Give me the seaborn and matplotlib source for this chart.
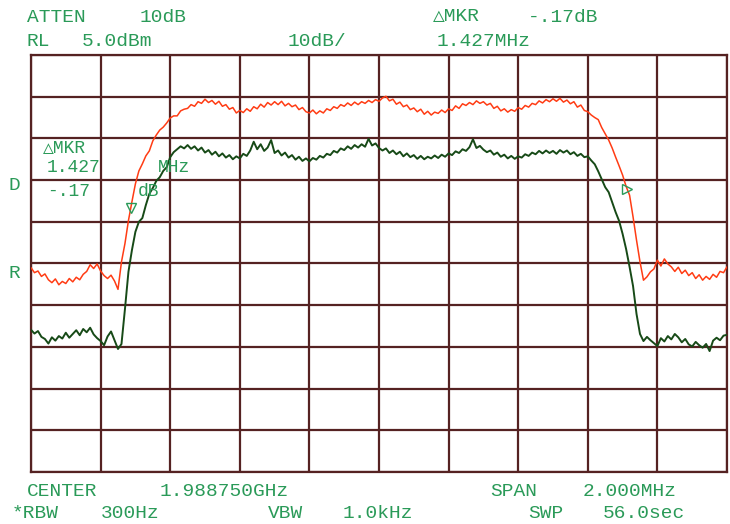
import numpy as np
import pandas as pd
import seaborn as sns
import matplotlib
matplotlib.use("Agg")
import matplotlib.pyplot as plt

# sweep: 201 points across 2.000 MHz span, offsets from 1.988750 GHz centre (MHz)
freq = np.linspace(-1.0, 1.0, 201)

# trace A (red), dBm
red_db = [
    -46.0, -47.2, -46.8, -48.1, -47.5, -48.9, -49.6, -48.7, -50.1, -49.3,
    -49.8, -48.6, -49.4, -48.3, -48.9, -47.6, -46.9, -45.3, -46.2, -45.1,
    -46.8, -47.9, -48.6, -47.8, -49.2, -51.2, -44.6, -40.2, -34.7, -30.2,
    -25.9, -22.8, -21.1, -19.2, -18.0, -15.6, -14.2, -13.0, -12.3, -11.3,
    -10.1, -9.6, -9.6, -8.4, -8.0, -7.8, -6.9, -7.3, -6.2, -6.6,
    -5.6, -6.4, -5.9, -6.8, -6.1, -7.3, -6.9, -8.0, -7.6, -8.9,
    -8.3, -8.8, -7.9, -8.5, -7.4, -7.9, -6.8, -7.5, -6.4, -7.0,
    -6.2, -6.9, -6.1, -7.2, -6.6, -7.4, -7.0, -8.1, -7.6, -8.6,
    -8.9, -8.2, -9.1, -8.4, -8.9, -7.9, -8.3, -7.4, -7.8, -6.9,
    -7.3, -6.5, -7.1, -6.3, -6.9, -6.2, -6.6, -5.9, -6.4, -5.7,
    -6.1, -5.3, -4.9, -6.0, -5.6, -6.8, -6.3, -7.4, -7.0, -8.1,
    -7.7, -8.6, -8.0, -9.2, -8.5, -9.4, -8.7, -9.0, -8.2, -8.8,
    -7.9, -8.3, -7.2, -7.8, -6.7, -7.1, -6.4, -6.9, -6.0, -6.6,
    -6.2, -7.0, -6.6, -7.8, -7.3, -8.4, -7.9, -8.7, -8.1, -8.5,
    -7.6, -8.0, -7.1, -7.5, -6.6, -6.9, -6.0, -6.5, -5.7, -6.2,
    -5.5, -6.1, -5.4, -6.3, -5.8, -6.7, -6.2, -7.5, -7.0, -8.3,
    -8.6, -9.4, -10.0, -10.5, -12.4, -13.9, -15.4, -17.3, -19.5, -21.6,
    -23.8, -26.5, -28.6, -33.8, -39.4, -44.6, -49.0, -48.2, -47.0, -46.3,
    -44.2, -45.6, -43.9, -45.1, -45.8, -46.9, -45.9, -47.4, -46.6, -47.9,
    -47.2, -48.6, -47.7, -49.0, -48.1, -48.8, -47.6, -48.3, -46.9, -47.2,
    -45.8,
]

# trace B (dark green), dBm
green_db = [
    -60.9, -61.8, -61.2, -62.6, -63.1, -64.2, -62.7, -63.5, -62.4, -63.0,
    -61.6, -62.8, -61.9, -61.0, -62.2, -60.7, -61.5, -60.4, -62.0, -62.9,
    -63.6, -64.6, -62.5, -61.3, -63.4, -65.5, -64.3, -55.9, -47.0, -41.8,
    -37.4, -35.0, -34.1, -31.0, -28.3, -26.9, -25.2, -24.3, -22.8, -21.9,
    -19.5, -18.3, -17.6, -16.9, -17.4, -16.6, -17.5, -16.9, -17.9, -17.2,
    -18.4, -17.8, -18.9, -18.2, -19.3, -18.6, -19.6, -19.0, -20.0, -19.3,
    -19.8, -18.7, -19.2, -17.9, -15.8, -17.6, -16.4, -18.0, -17.2, -15.4,
    -18.5, -17.9, -19.1, -18.4, -19.6, -19.0, -20.1, -19.4, -20.4, -19.8,
    -20.5, -19.7, -20.1, -19.2, -19.6, -18.7, -19.0, -18.0, -18.4, -17.4,
    -17.8, -16.9, -17.5, -16.6, -17.2, -16.4, -17.0, -15.1, -16.7, -16.2,
    -17.3, -17.9, -17.4, -18.5, -17.9, -18.8, -18.2, -19.3, -18.6, -19.5,
    -19.0, -19.9, -19.2, -20.0, -19.4, -19.8, -19.1, -19.7, -18.9, -19.4,
    -18.6, -19.0, -18.1, -18.5, -17.6, -18.0, -17.1, -15.2, -17.3, -16.8,
    -17.7, -18.3, -17.9, -18.9, -18.4, -19.4, -18.9, -19.8, -19.2, -19.9,
    -19.3, -19.6, -18.8, -19.2, -18.4, -18.8, -18.0, -18.6, -17.9, -18.5,
    -18.0, -18.7, -17.8, -18.4, -17.9, -18.8, -18.3, -19.2, -18.7, -19.5,
    -19.3, -20.3, -21.2, -22.9, -24.8, -26.7, -27.9, -30.3, -32.7, -34.8,
    -37.9, -41.5, -45.8, -50.4, -57.1, -61.9, -63.6, -62.6, -63.4, -64.1,
    -64.8, -62.9, -63.7, -62.4, -63.2, -61.9, -62.7, -63.9, -63.1, -64.4,
    -64.9, -63.8, -64.6, -65.2, -64.3, -66.0, -63.5, -62.8, -63.4, -62.3,
    -62.1,
]

# marker / delta marker (MHz offsets)
mkr_ref = -0.7135
mkr_delta = 1.427

ref_level = 5.0
db_per_div = 10

RED = "#ff3c14"
DKGREEN = "#174a17"
TXT = "#2a9a58"
GRID = "#552222"

sns.set_style("white")
plt.rcParams["font.family"] = ["Liberation Mono", "DejaVu Sans Mono", "DejaVu Sans"]

fig = plt.figure(figsize=(7.3, 5.24), dpi=100)
ax = fig.add_axes([31 / 730, 1 - 472 / 524, 696 / 730, 417 / 524])

df = pd.DataFrame({"freq": freq, "A": red_db, "B": green_db})
sns.lineplot(data=df, x="freq", y="A", ax=ax, color=RED, linewidth=1.1, zorder=3)
sns.lineplot(data=df, x="freq", y="B", ax=ax, color=DKGREEN, linewidth=1.4, zorder=3)

# markers sit on trace A
m1 = mkr_ref
m2 = mkr_ref + mkr_delta
ax.plot([m1], [np.interp(m1, freq, red_db)], marker="v", ms=7, mfc="none",
        mec=TXT, mew=1.0, zorder=4)
ax.plot([m2], [np.interp(m2, freq, red_db)], marker=">", ms=7, mfc="none",
        mec=TXT, mew=1.0, zorder=4)

ax.set_xlim(-1, 1)
ax.set_ylim(ref_level - 10 * db_per_div, ref_level)
ax.set_xticks(np.linspace(-1, 1, 11))
ax.set_yticks(np.arange(ref_level - 10 * db_per_div, ref_level + 1, db_per_div))
ax.grid(True, color=GRID, linewidth=1.6)
ax.tick_params(length=0, labelbottom=False, labelleft=False)
ax.set_xlabel("")
ax.set_ylabel("")
for s in ax.spines.values():
    s.set_color(GRID)
    s.set_linewidth(1.6)
ax.set_axisbelow(True)


def label(x, y, s, size=14):
    fig.text(x / 730, 1 - y / 524, s, color=TXT, fontsize=size, ha="left", va="center")


label(27, 17, "ATTEN")
label(140, 17, "10dB")
label(27, 41, "RL")
label(82, 41, "5.0dBm")
label(288, 41, "10dB/")
label(433, 17, "△MKR")
label(528, 17, "-.17dB")
label(437, 41, "1.427MHz")

label(27, 491, "CENTER")
label(160, 491, "1.988750GHz")
label(490, 491, "SPAN")
label(583, 491, "2.000MHz")
label(12, 514, "*RBW")
label(101, 514, "300Hz")
label(268, 514, "VBW")
label(343, 514, "1.0kHz")
label(528, 514, "SWP")
label(603, 514, "56.0sec")

label(9, 185, "D")
label(9, 273, "R")
label(43, 148, "△MKR", 13)
label(47, 168, "1.427", 13)
label(158, 168, "MHz", 13)
label(47, 192, "-.17", 13)
label(138, 192, "dB", 13)

fig.savefig("out.png", dpi=100, facecolor="white")
